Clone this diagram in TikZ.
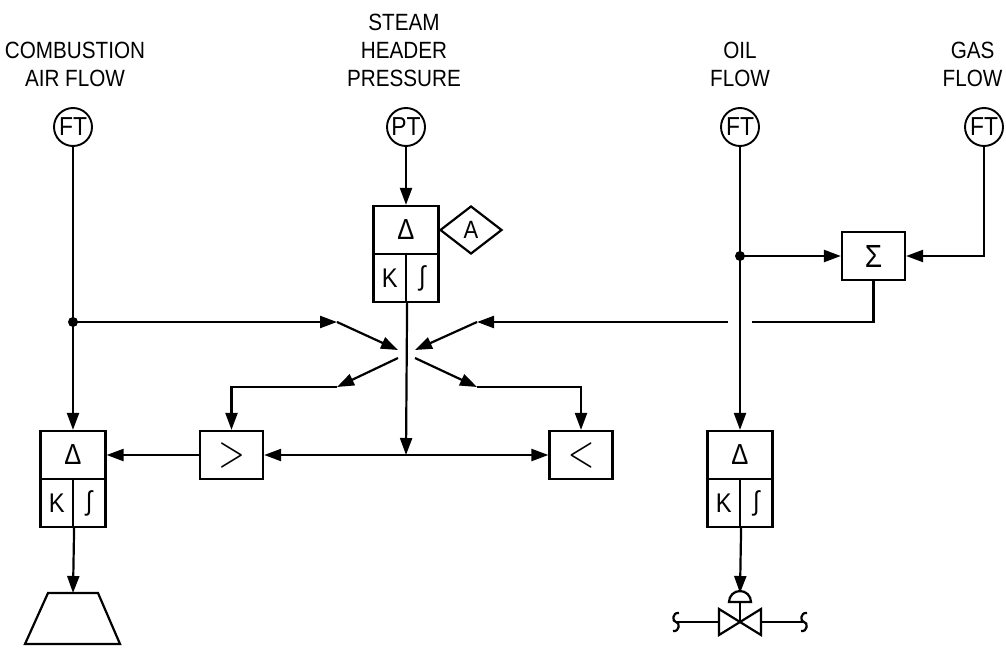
\documentclass[tikz,border=0pt]{standalone}
\usepackage{fontspec}
\setmainfont[FakeStretch=0.88]{Liberation Sans}
\usetikzlibrary{arrows.meta,shapes.geometric}
\begin{document}
\begin{tikzpicture}[x=1pt,y=-1pt,
 ln/.style={line width=2.2pt},
 arr/.style={ln,-{Triangle[length=17pt,width=12pt]}},
 darr/.style={ln,{Triangle[length=17pt,width=12pt]}-{Triangle[length=17pt,width=12pt]}},
 inst/.style={circle,draw,line width=1.9pt,minimum size=38pt,inner sep=0pt,font=\fontsize{26}{26}\selectfont},
 cell/.style={rectangle,draw,line width=2.2pt,inner sep=0pt,minimum width=65pt,minimum height=48pt,font=\fontsize{29}{29}\selectfont},
 half/.style={rectangle,draw,line width=2.2pt,inner sep=0pt,minimum width=32.5pt,minimum height=48pt,font=\fontsize{27}{27}\selectfont},
 sel/.style={rectangle,draw,line width=2.2pt,inner sep=0pt,minimum width=63pt,minimum height=48pt},
 lbl/.style={align=center,font=\fontsize{23.5}{28}\selectfont},
 jdot/.style={circle,fill,inner sep=0pt,minimum size=10pt}
]
\useasboundingbox (0,0) rectangle (1006,650);

% labels
\node[lbl] (l1) at (75,64) {COMBUSTION\\AIR FLOW};
\node[lbl] (l2) at (404,50) {STEAM\\HEADER\\PRESSURE};
\node[lbl] (l3) at (740,64) {OIL\\FLOW};
\node[lbl,anchor=east] (l4) at (1006,64) {GAS\\FLOW};

% transmitters
\node[inst] (ft1) at (73,127) {FT};
\node[inst] (pt) at (406,127) {PT};
\node[inst] (ft3) at (740,127) {FT};
\node[inst] (ft4) at (984,127) {FT};

% top PID controller
\node[cell] (tp) at (406,230) {Δ};
\node[half] (tk) at (389.75,278) {K};
\node[half] (ti) at (422.25,278) {∫};
\node[draw,diamond,line width=2.2pt,minimum width=62pt,minimum height=48pt,inner sep=0pt,font=\fontsize{25}{25}\selectfont] (alm) at (471,230) {A};

% combustion air PID
\node[cell] (pc) at (73,455) {Δ};
\node[half] (ck) at (56.75,503) {K};
\node[half] (ci) at (89.25,503) {∫};

% oil PID
\node[cell] (op) at (740,455) {Δ};
\node[half] (ok) at (723.75,503) {K};
\node[half] (oi) at (756.25,503) {∫};

% selectors and summer
\node[sel] (gt) at (231.5,455) {\scalebox{3.4}[4.4]{$>$}};
\node[sel] (lt) at (581,455) {\scalebox{3.4}[4.4]{$<$}};
\node[sel,font=\fontsize{32}{32}\selectfont] (sg) at (873.5,256) {Σ};

% coordinates
\coordinate (j1) at (73,322);
\coordinate (j2) at (740,256);
\coordinate (a1) at (337,322);
\coordinate (c1) at (398,350);
\coordinate (g1) at (752,322);
\coordinate (g2) at (728,322);
\coordinate (a2) at (477,322);
\coordinate (c2) at (415,350);
\coordinate (c3) at (398,358);
\coordinate (a3) at (337,387);
\coordinate (c4) at (415,358);
\coordinate (a4) at (477,387);
\coordinate (m) at (406,455);
\coordinate (fan) at (73,593);
\coordinate (act) at (740,593);

% connectors
\draw[arr] (ft1) -- (pc.north);
\node[jdot] at (j1) {};
\draw[arr] (j1) -- (a1);
\draw[arr] (a1) -- (c1);
\draw[ln] (sg.south) |- (g1);
\draw[arr] (g2) -- (a2);
\draw[arr] (a2) -- (c2);
\draw[arr] (c3) -- (a3);
\draw[arr] (a3) -| (gt.north);
\draw[arr] (c4) -- (a4);
\draw[arr] (a4) -| (lt.north);
\draw[arr] (tk.south east) -- (m);
\draw[darr] (gt.east) -- (lt.west);
\draw[arr] (gt.west) -- (pc.east);
\draw[arr] (ck.south east) -- (fan);
\draw[arr] (pt) -- (tp.north);
\draw[arr] (ft3) -- (op.north);
\node[jdot] at (j2) {};
\draw[arr] (j2) -- (sg.west);
\draw[arr] (ft4) |- (sg.east);
\draw[arr] (ok.south east) -- (act);

% fan / damper
\draw[ln,line join=miter] (48,593) -- (98,593) -- (120,644) -- (25,644) -- cycle;

% control valve
\draw[ln] (729,602) arc[start angle=180,end angle=360,radius=11] -- cycle;
\draw[ln] (740,602) -- (740,622);
\draw[ln,line join=miter] (719,609) -- (719,635) -- (761,609) -- (761,635) -- cycle;
\draw[ln] (719,622) -- (676,622);
\draw[ln] (761,622) -- (804,622);
\draw[ln] (679,613) .. controls (672,612) and (672,622) .. (676,622) .. controls (680,622) and (680,632) .. (673,631);
\draw[ln] (807,613) .. controls (800,612) and (800,622) .. (804,622) .. controls (808,622) and (808,632) .. (801,631);
\end{tikzpicture}
\end{document}
